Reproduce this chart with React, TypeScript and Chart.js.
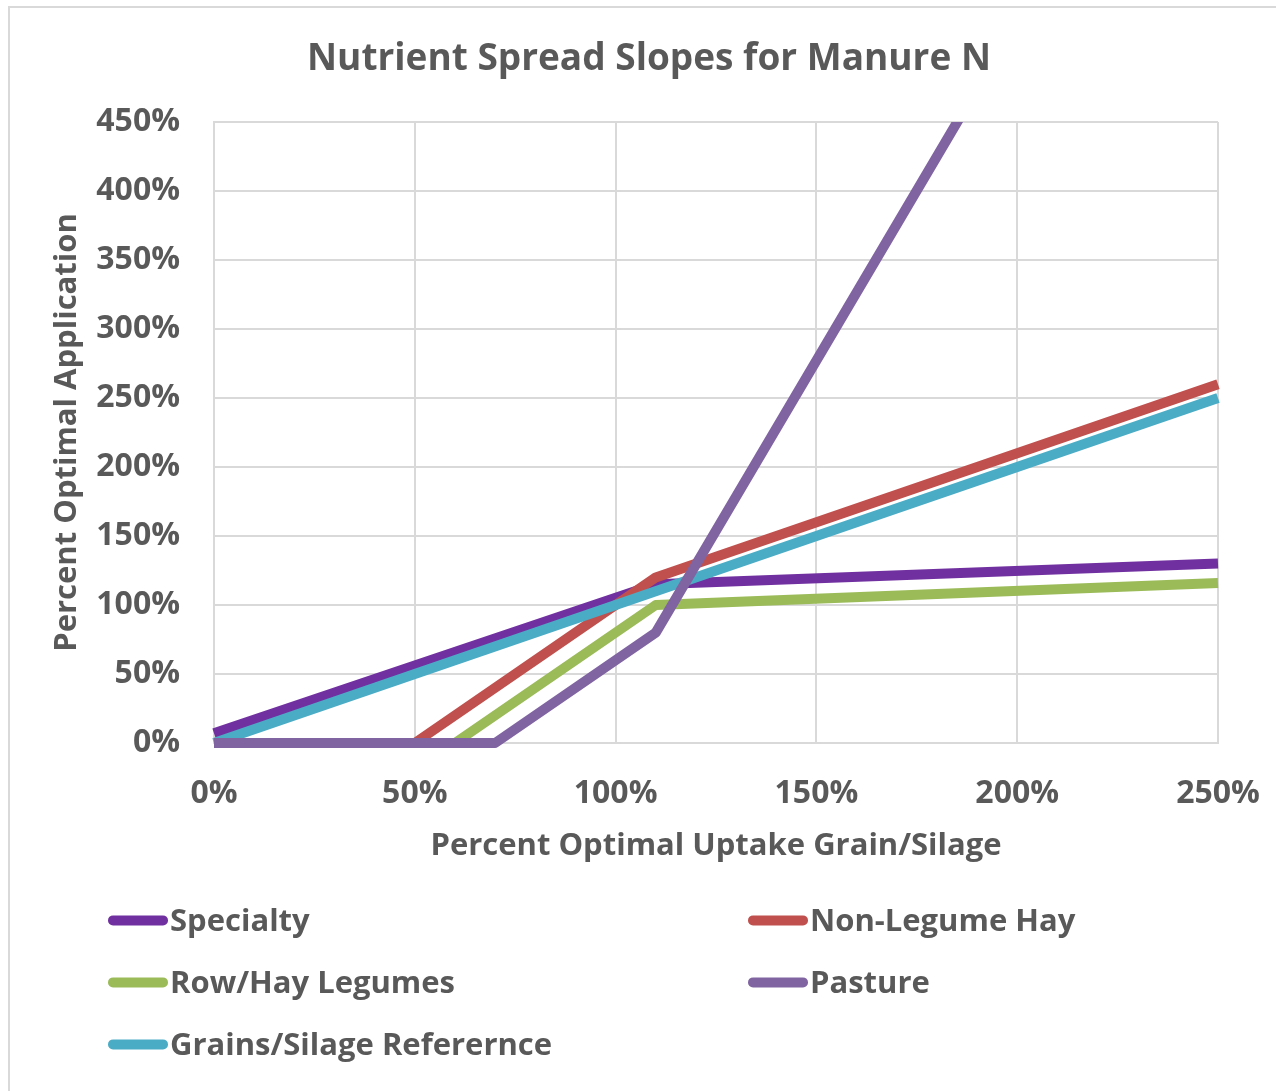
import React, { useEffect, useRef } from 'react';
import { Chart, registerables } from 'chart.js';

Chart.register(...registerables);

const TITLE = 'Nutrient Spread Slopes for Manure N';
const X_TITLE = 'Percent Optimal Uptake Grain/Silage';
const Y_TITLE = 'Percent Optimal Application';

const seriesNames = ['Specialty', 'Non-Legume Hay', 'Row/Hay Legumes', 'Pasture', 'Grains/Silage Referernce'];
const seriesColors = ['#7030A0', '#C0504D', '#9BBB59', '#8064A2', '#4BACC6'];
// drawing order: lower number = drawn on top
const seriesOrder = [4, 3, 2, 0, 1];

const specialtyX = [0, 110, 250];
const specialtyY = [7, 115, 130];
const nonLegumeX = [0, 50, 110, 250];
const nonLegumeY = [0, 0, 120, 260];
const rowHayX = [0, 60, 110, 250];
const rowHayY = [0, 0, 100, 116];
const pastureX = [0, 70, 110, 250];
const pastureY = [0, 0, 80, 770];
const grainsX = [0, 250];
const grainsY = [0, 250];

const seriesX = [specialtyX, nonLegumeX, rowHayX, pastureX, grainsX];
const seriesY = [specialtyY, nonLegumeY, rowHayY, pastureY, grainsY];

const xTickValues = [0, 50, 100, 150, 200, 250];
const yTickValues = [0, 50, 100, 150, 200, 250, 300, 350, 400, 450];

const FONT = '"Open Sans", sans-serif';
const TEXT = '#595959';
const GRID = '#d9d9d9';

export default function App() {
  const ref = useRef<HTMLCanvasElement | null>(null);

  useEffect(() => {
    const canvas = ref.current;
    if (!canvas) return;
    const datasets = seriesNames.map((name, i) => ({
      label: name,
      data: seriesX[i].map((x, j) => ({ x, y: seriesY[i][j] })),
      borderColor: seriesColors[i],
      backgroundColor: seriesColors[i],
      borderWidth: 10,
      pointRadius: 0,
      pointHoverRadius: 0,
      fill: false,
      tension: 0,
      borderJoinStyle: 'round' as const,
      borderCapStyle: 'butt' as const,
      order: seriesOrder[i],
      clip: { left: 6, top: 0, right: 6, bottom: 6 },
    }));
    const chart = new Chart(canvas, {
      type: 'line',
      data: { datasets },
      options: {
        animation: false,
        responsive: false,
        maintainAspectRatio: false,
        layout: { padding: { top: 122, left: 0, right: 58, bottom: 208 } },
        plugins: {
          legend: { display: false },
          title: { display: false },
          tooltip: { enabled: false },
        },
        scales: {
          x: {
            type: 'linear',
            min: 0,
            max: 250,
            afterBuildTicks: (s: any) => {
              s.ticks = xTickValues.map((v) => ({ value: v }));
            },
            afterFit: (s: any) => {
              s.height = 140;
              s.paddingLeft = 0;
              s.paddingRight = 0;
            },
            ticks: {
              callback: (v: any) => v + '%',
              font: { family: FONT, size: 32, weight: 'bold' },
              color: TEXT,
              padding: 32,
              maxRotation: 0,
            },
            grid: { color: GRID, lineWidth: 2, drawTicks: false },
            border: { color: GRID, width: 2 },
            title: {
              display: true,
              text: X_TITLE,
              font: { family: FONT, size: 31, weight: 'bold' },
              color: TEXT,
              padding: { top: 0, bottom: 18 },
            },
          },
          y: {
            type: 'linear',
            min: 0,
            max: 450,
            afterBuildTicks: (s: any) => {
              s.ticks = yTickValues.map((v) => ({ value: v }));
            },
            afterFit: (s: any) => {
              s.width = 214;
              s.paddingTop = 0;
              s.paddingBottom = 0;
            },
            ticks: {
              callback: (v: any) => v + '%',
              font: { family: FONT, size: 32, weight: 'bold' },
              color: TEXT,
              padding: 34,
            },
            grid: { color: GRID, lineWidth: 2, drawTicks: false },
            border: { color: GRID, width: 2 },
            title: {
              display: true,
              text: Y_TITLE,
              font: { family: FONT, size: 31, weight: 'bold' },
              color: TEXT,
              padding: { top: 49, bottom: 0 },
            },
          },
        },
      },
    });
    return () => chart.destroy();
  }, []);

  const legendPos = [
    { left: 108, top: 920 },
    { left: 748, top: 920 },
    { left: 108, top: 982 },
    { left: 748, top: 982 },
    { left: 108, top: 1044 },
  ];

  return (
    <div
      style={{
        position: 'fixed',
        left: 0,
        top: 0,
        width: 1276,
        height: 1091,
        overflow: 'hidden',
        background: '#ffffff',
      }}
    >
      <div
        style={{
          position: 'absolute',
          left: 8,
          top: 6,
          width: 1400,
          height: 1200,
          border: '2px solid ' + GRID,
          boxSizing: 'border-box',
        }}
      />
      <canvas ref={ref} width={1276} height={1091} style={{ position: 'absolute', left: 0, top: 0 }} />
      <div
        style={{
          position: 'absolute',
          left: 149,
          width: 1000,
          top: 56,
          transform: 'translateY(-50%)',
          textAlign: 'center',
          fontFamily: FONT,
          fontWeight: 700,
          fontSize: 37,
          color: TEXT,
          whiteSpace: 'nowrap',
          lineHeight: 1.2,
        }}
      >
        {TITLE}
      </div>
      {seriesNames.map((name, i) => (
        <div
          key={name}
          style={{
            position: 'absolute',
            left: legendPos[i].left,
            top: legendPos[i].top,
            transform: 'translateY(-50%)',
            display: 'flex',
            alignItems: 'center',
            fontFamily: FONT,
            fontWeight: 700,
            fontSize: 31,
            color: TEXT,
            whiteSpace: 'nowrap',
            lineHeight: 1.2,
          }}
        >
          <span
            style={{
              display: 'inline-block',
              width: 60,
              height: 10,
              borderRadius: 5,
              background: seriesColors[i],
              marginRight: 2,
            }}
          />
          <span>{name}</span>
        </div>
      ))}
    </div>
  );
}
